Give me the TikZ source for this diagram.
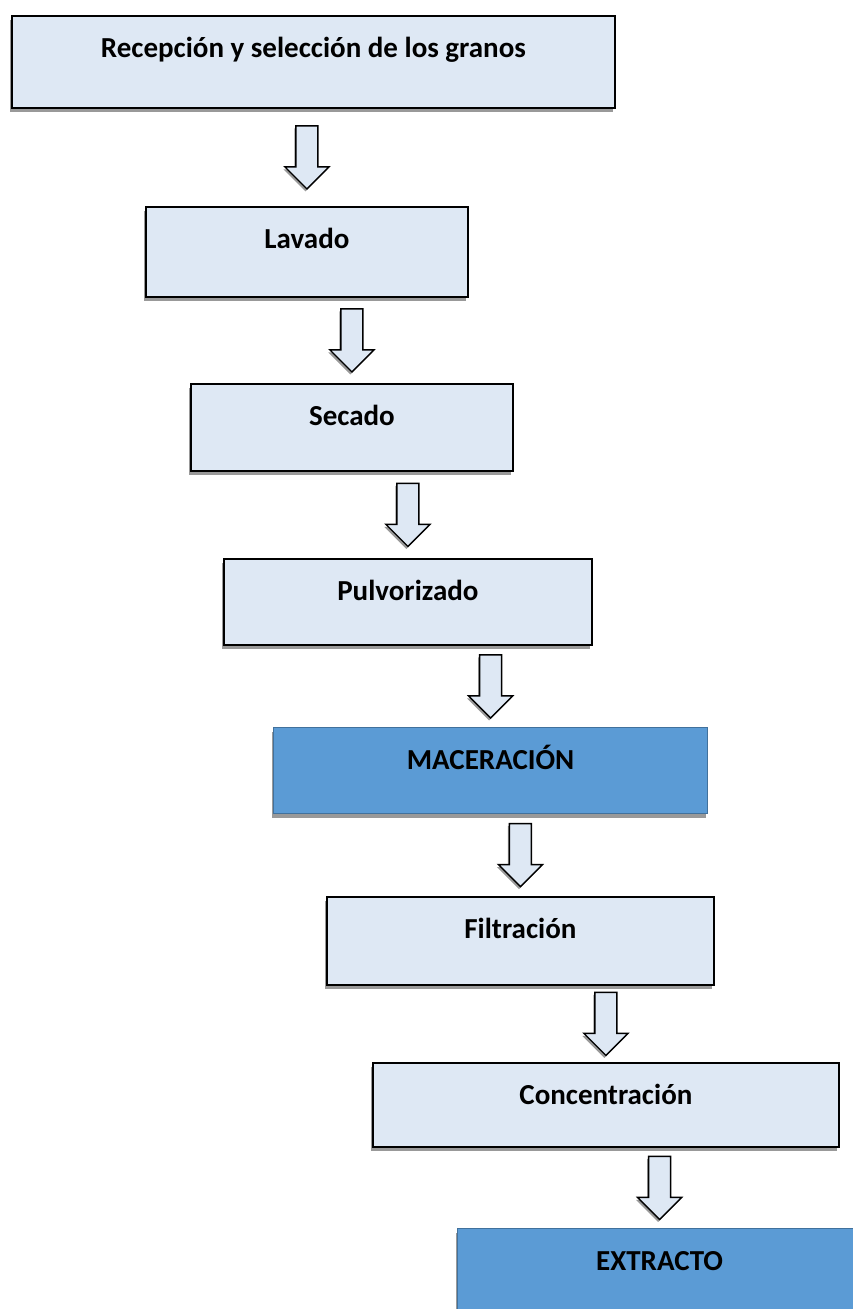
\documentclass[tikz,border=0pt]{standalone}
\usepackage{fontspec}
\setmainfont{Carlito}
\usetikzlibrary{calc,shadows}

\definecolor{cajaclara}{HTML}{DEE8F4}
\definecolor{cajaazul}{HTML}{5B9BD5}
\definecolor{bordeazul}{HTML}{41719C}

% block arrow between two steps, centred on the second one
\newcommand{\flecha}[2]{%
  \coordinate (m) at ($(#1.south -| #2.north)!0.5!(#2.north)$);
  \filldraw[bloque] ([shift={(-11,-31.5)}]m) -- ++(22,0) -- ++(0,41) -- ++(11,0)
    -- ++(-22,22) -- ++(-22,-22) -- ++(11,0) -- cycle;
}

\begin{document}
\begin{tikzpicture}[
    x=1pt, y=-1pt,
    caja/.style = {draw=black, line width=1.8pt, fill=cajaclara, inner sep=0pt,
      anchor=north west, text height=42pt, font=\bfseries\fontsize{29}{34}\selectfont,
      drop shadow={shadow xshift=-2pt, shadow yshift=-4pt, fill=black!40, opacity=1}},
    azul/.style = {caja, fill=cajaazul, draw=bordeazul, line width=1.2pt},
    bloque/.style = {draw=black, line width=1.4pt, fill=cajaclara,
      drop shadow={shadow xshift=-1.5pt, shadow yshift=-2.5pt, fill=black!40, opacity=1}}
     ]
  \useasboundingbox (0,0) rectangle (852,1309);
  \node[caja, minimum width=603pt, text depth=50pt] (recepcion) at (11,15) {Recepción y selección de los granos};
  \node[caja, minimum width=322pt, text depth=48pt] (lavado) at (145,206) {Lavado};
  \node[caja, minimum width=322pt, text depth=45pt] (secado) at (190,383) {Secado};
  \node[caja, minimum width=368pt, text depth=44pt] (pulvorizado) at (223,558) {Pulvorizado};
  \node[azul, minimum width=434pt, text depth=44pt] (maceracion) at (273,727) {MACERACIÓN};
  \node[caja, minimum width=387pt, text depth=46pt] (filtracion) at (326,896) {Filtración};
  \node[caja, minimum width=466pt, text depth=42pt] (concentracion) at (372,1062) {Concentración};
  \node[azul, minimum width=404pt, text depth=57pt] (extracto) at (457,1228) {EXTRACTO};

  \flecha{recepcion}{lavado}
  \flecha{lavado}{secado}
  \flecha{secado}{pulvorizado}
  \flecha{pulvorizado}{maceracion}
  \flecha{maceracion}{filtracion}
  \flecha{filtracion}{concentracion}
  \flecha{concentracion}{extracto}
\end{tikzpicture}
\end{document}
